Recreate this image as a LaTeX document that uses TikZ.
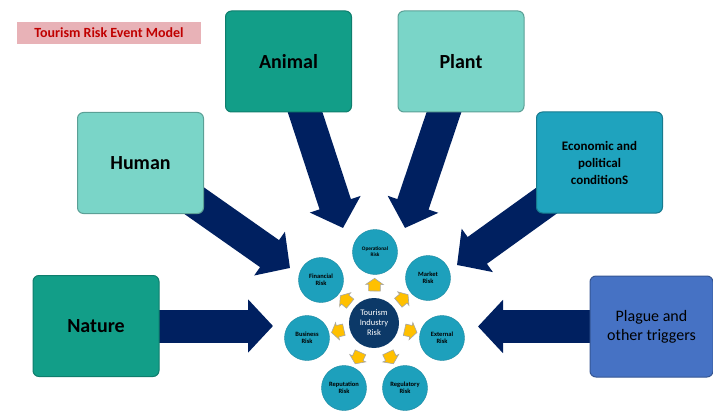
\documentclass[tikz,border=0pt]{standalone}
\usepackage{fontspec}
\setmainfont{Carlito}
\usetikzlibrary{arrows.meta,shapes.arrows,backgrounds}

\definecolor{tealdark}{RGB}{18,158,136}
\definecolor{teallight}{RGB}{122,213,200}
\definecolor{tealblue}{RGB}{31,163,190}
\definecolor{plagueblue}{RGB}{70,114,196}
\definecolor{navy}{RGB}{0,32,96}
\definecolor{hubblue}{RGB}{12,57,104}
\definecolor{riskblue}{RGB}{29,160,188}
\definecolor{gold}{RGB}{255,192,0}
\definecolor{titlepink}{RGB}{232,178,183}
\definecolor{titlered}{RGB}{192,0,0}

\tikzset{
  box/.style={rounded corners=6pt, line width=1pt, minimum width=126pt, minimum height=101pt,
    align=center, text=black, inner sep=2pt},
  bigarrow/.style={navy, line width=33pt, -{Triangle[length=25pt,width=52pt]}},
  risk/.style={circle, fill=riskblue, draw=riskblue!85!black, minimum size=45pt, inner sep=0pt,
    align=center, font=\fontsize{6.5}{7.2}\selectfont\bfseries},
  hubnode/.style={circle, fill=hubblue, minimum size=50pt, inner sep=0pt, align=center,
    text=white, font=\fontsize{8.5}{10}\selectfont},
  yarrow/.style={single arrow, fill=gold, draw=gray!70, line width=0.6pt,
    inner xsep=4pt, inner ysep=5.5pt, minimum size=0pt, single arrow head extend=3pt,
    single arrow tip angle=110},
  bigfont/.style={font=\fontsize{20}{24}\selectfont\bfseries}
}

\begin{document}
\begin{tikzpicture}[x=1pt,y=-1pt]
        \useasboundingbox (0,0) rectangle (713,412);

        % Заголовок
        \node[fill=titlepink, minimum width=184pt, minimum height=22pt, text=titlered,
              font=\fontsize{14}{16}\selectfont\bfseries] (title) at (109,33) {Tourism Risk Event Model};

        % Факторы
        \node[box, bigfont, fill=tealdark, draw=tealdark!80!black] (animal) at (288.5,61.5) {Animal};
        \node[box, bigfont, fill=teallight, draw=teallight!75!black] (plant) at (461,61.5) {Plant};
        \node[box, bigfont, fill=teallight, draw=teallight!75!black] (human) at (140.5,163) {Human};
        \node[box, fill=tealblue, draw=tealblue!75!black, font=\fontsize{13}{17}\selectfont\bfseries]
              (econ) at (599.5,162.5) {Economic and\\political\\conditionS};
        \node[box, bigfont, fill=tealdark, draw=tealdark!80!black] (nature) at (96,326) {Nature};
        \node[box, fill=plagueblue, draw=plagueblue!75!black, minimum width=123pt,
              font=\fontsize{16}{19}\selectfont] (plague) at (651.5,326.5) {Plague and\\other triggers};

        % Центр и риски
        \node[hubnode] (hub) at (374,323) {Tourism\\Industry\\Risk};
        \node[risk, font=\fontsize{5.3}{6}\selectfont\bfseries] (oper) at (375,252) {Operational\\Risk};
        \node[risk] (market) at (428,278) {Market\\Risk};
        \node[risk] (extern) at (442,338) {External\\Risk};
        \node[risk] (regul)  at (405,388) {Regulatory\\Risk};
        \node[risk] (reput)  at (344,388) {Reputation\\Risk};
        \node[risk] (busin)  at (307,338) {Business\\Risk};
        \node[risk] (finan)  at (321,280) {Financial\\Risk};

        % Острия больших стрелок
        \coordinate (tipN) at (273,326);
        \coordinate (tipP) at (478,326.5);
        \coordinate (tipH) at (290,268);
        \coordinate (tipA) at (343,228);
        \coordinate (tipL) at (405,228);
        \coordinate (tipE) at (457,265);

        % Большие стрелки
        \begin{scope}[on background layer]
            \draw[bigarrow] (nature.center) -- (tipN);
            \draw[bigarrow] (plague.center) -- (tipP);
            \draw[bigarrow] (human.center)  -- (tipH);
            \draw[bigarrow] (animal.center) -- (tipA);
            \draw[bigarrow] (plant.center)  -- (tipL);
            \draw[bigarrow] (econ.center)   -- (tipE);
        \end{scope}

        % Жёлтые стрелки
        \foreach \r in {oper,market,extern,regul,reput,busin,finan}
            \path (hub) -- (\r) node[yarrow, pos=0.48, sloped, allow upside down] {};
\end{tikzpicture}
\end{document}
